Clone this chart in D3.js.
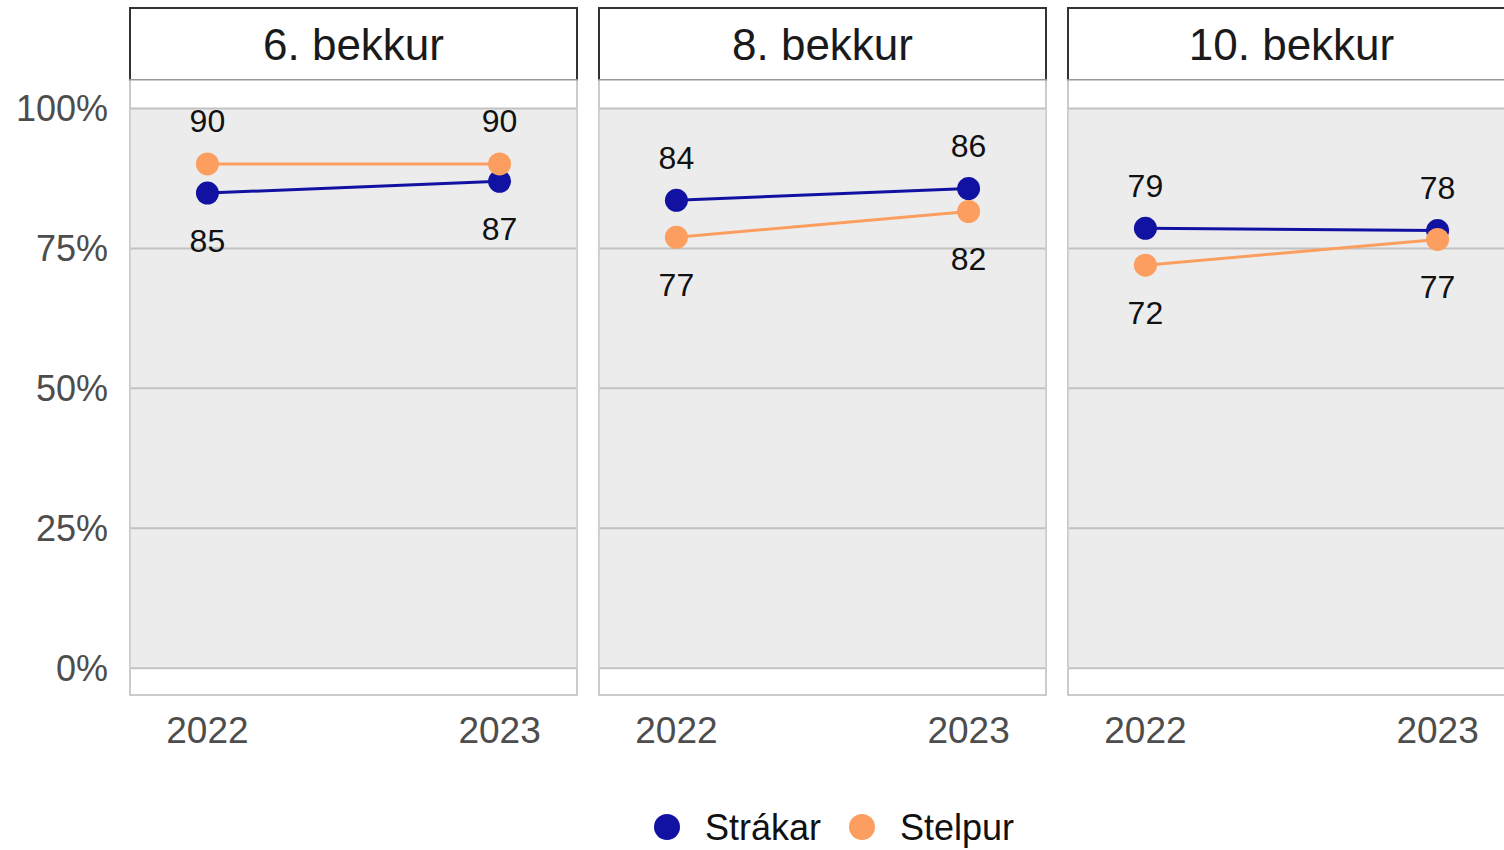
<!DOCTYPE html>
<html>
<head>
<meta charset="utf-8">
<script src="https://cdn.jsdelivr.net/npm/d3@7"></script>
<style>
	body { margin: 0; background: #fff; }
	svg { display: block; font-family: "Liberation Sans", Arial, sans-serif; }
</style>
</head>
<body>
<div id="chart"></div>
<script>

var grades = ["6. bekkur", "8. bekkur", "10. bekkur"];
var years = ["2022", "2023"];
var seriesNames = ["Strákar", "Stelpur"];
var seriesColors = ["#1212a2", "#fb9e5f"];

// percentages per grade, [2022, 2023]
var strakar = [[84.9, 87.0], [83.6, 85.7], [78.6, 78.2]];
var stelpur = [[90.1, 90.1], [77.0, 81.6], [72.0, 76.6]];

var yTicks = [0, 25, 50, 75, 100];


var width = 1504, height = 850,
	panelW = 447, gap = 22, left = 130,
	stripTop = 8, stripBottom = 80, panelBottom = 695;

var svg = d3.select("#chart")
	.append("svg")
	.attr("width", width)
	.attr("height", height);

var x = d3.scalePoint().domain(years).range([0, panelW]).padding(0.265);
var y = d3.scaleLinear().domain([-4.8, 105.1]).range([panelBottom, stripBottom]);

var series = [strakar, stelpur];

grades.forEach(function(grade, gi) {

	var g = svg.append("g")
		.attr("transform", "translate(" + (left + gi * (panelW + gap)) + ",0)");

	// strip header
	g.append("rect")
		.attr("x", 0).attr("y", stripTop)
		.attr("width", panelW).attr("height", stripBottom - stripTop)
		.attr("fill", "#fff")
		.attr("stroke", "#333")
		.attr("stroke-width", 2);

	g.append("text")
		.attr("x", panelW / 2)
		.attr("y", (stripTop + stripBottom) / 2)
		.attr("dy", "0.36em")
		.attr("text-anchor", "middle")
		.attr("font-size", 44)
		.attr("fill", "#1a1a1a")
		.text(grade);

	// panel
	g.append("rect")
		.attr("x", 0).attr("y", stripBottom)
		.attr("width", panelW).attr("height", panelBottom - stripBottom)
		.attr("fill", "#fff")
		.attr("stroke", "#bbb")
		.attr("stroke-width", 1.5);

	g.append("rect")
		.attr("x", 0.75).attr("y", y(100))
		.attr("width", panelW - 1.5).attr("height", y(0) - y(100))
		.attr("fill", "#ececec");

	g.selectAll(".grid")
		.data(yTicks)
		.enter().append("line")
			.attr("x1", 0.75).attr("x2", panelW - 0.75)
			.attr("y1", function(d) { return y(d); })
			.attr("y2", function(d) { return y(d); })
			.attr("stroke", "#c2c2c2")
			.attr("stroke-width", 2);

	// x axis labels
	g.selectAll(".xlab")
		.data(years)
		.enter().append("text")
			.attr("x", function(d) { return x(d); })
			.attr("y", 730)
			.attr("dy", "0.36em")
			.attr("text-anchor", "middle")
			.attr("font-size", 37)
			.attr("fill", "#4d4d4d")
			.text(function(d) { return d; });

	var line = d3.line()
		.x(function(d, i) { return x(years[i]); })
		.y(function(d) { return y(d); });

	series.forEach(function(s, si) {
		var vals = s[gi];

		g.append("path")
			.datum(vals)
			.attr("d", line)
			.attr("fill", "none")
			.attr("stroke", seriesColors[si])
			.attr("stroke-width", 3);
	});

	series.forEach(function(s, si) {
		var vals = s[gi];

		g.selectAll(".pt" + si)
			.data(vals)
			.enter().append("circle")
				.attr("cx", function(d, i) { return x(years[i]); })
				.attr("cy", function(d) { return y(d); })
				.attr("r", 11.5)
				.attr("fill", seriesColors[si]);

		// label above the higher point, below the lower
		g.selectAll(".lab" + si)
			.data(vals)
			.enter().append("text")
				.attr("x", function(d, i) { return x(years[i]); })
				.attr("y", function(d, i) {
					var other = series[1 - si][gi][i];
					return d >= other ? y(d) - 43 : y(d) + 47;
				})
				.attr("dy", "0.36em")
				.attr("text-anchor", "middle")
				.attr("font-size", 32)
				.attr("fill", "#111")
				.text(function(d) { return Math.round(d); });
	});
});

// y axis labels
svg.selectAll(".ylab")
	.data(yTicks)
	.enter().append("text")
		.attr("x", 108)
		.attr("y", function(d) { return y(d); })
		.attr("dy", "0.36em")
		.attr("text-anchor", "end")
		.attr("font-size", 36)
		.attr("fill", "#4d4d4d")
		.text(function(d) { return d + "%"; });

// legend
var legend = svg.append("g").attr("transform", "translate(0,827)");
var legendX = [667, 862];

seriesNames.forEach(function(name, i) {
	legend.append("circle")
		.attr("cx", legendX[i]).attr("cy", 0)
		.attr("r", 13)
		.attr("fill", seriesColors[i]);

	legend.append("text")
		.attr("x", legendX[i] + 38)
		.attr("y", 0)
		.attr("dy", "0.36em")
		.attr("font-size", 36)
		.attr("fill", "#111")
		.text(name);
});

</script>
</body>
</html>
